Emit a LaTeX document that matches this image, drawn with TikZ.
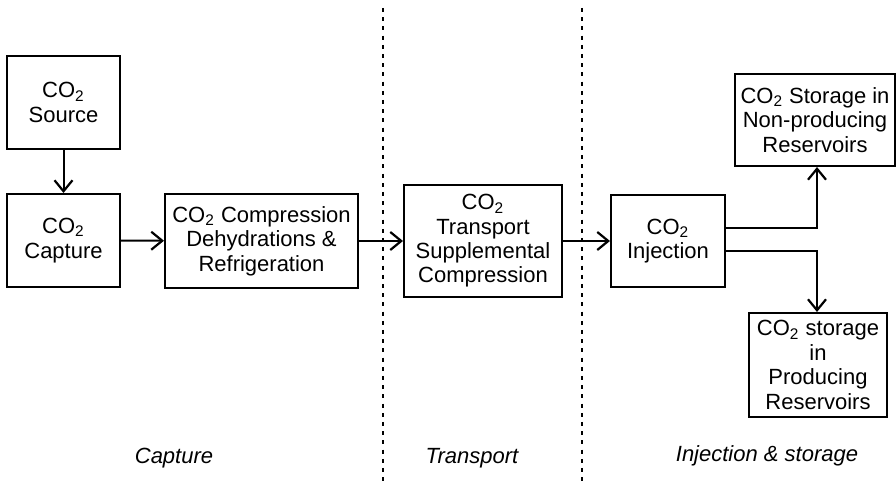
\documentclass[tikz,border=0pt]{standalone}
\usepackage{fontspec}
\setmainfont{Liberation Sans}
\usetikzlibrary{arrows.meta}
\newcommand{\cotwo}{CO\textsubscript{2}}
\tikzset{
  box/.style={draw, line width=1pt, align=center, inner sep=0pt,
    font=\fontsize{11}{12.2}\selectfont},
  flow/.style={line width=1pt, -{Straight Barb[length=5.5pt,width=9pt,line width=1.1pt]}},
  zone/.style={line width=1pt, dash pattern=on 2pt off 2.6pt},
  phase/.style={font=\fontsize{11}{12}\selectfont\itshape}
}
\begin{document}
\begin{tikzpicture}[x=0.5pt, y=-0.5pt]
            \useasboundingbox (0,0) rectangle (896,481);
            % boxes
            \node[box, minimum width=56.5pt, minimum height=46.5pt] (src) at (63.5,102.5) {\cotwo\\Source};
            \node[box, minimum width=56.5pt, minimum height=46.5pt] (cap) at (63.5,240.5) {\cotwo\\Capture};
            \node[box, minimum width=96.5pt, minimum height=47pt] (comp) at (261.5,241) {\cotwo{} Compression\\Dehydrations \&\\Refrigeration};
            \node[box, minimum width=79pt, minimum height=56pt] (trans) at (483,241) {\cotwo\\Transport\\Supplemental\\Compression};
            \node[box, minimum width=57pt, minimum height=46pt] (inj) at (668,241) {\cotwo\\Injection};
            \node[box, minimum width=80pt, minimum height=46pt] (nonprod) at (815,120) {\cotwo{} Storage in\\Non-producing\\Reservoirs};
            \node[box, minimum width=69pt, minimum height=52pt] (prod) at (818,365) {\cotwo{} storage\\in\\Producing\\Reservoirs};
            % dividers
            \coordinate (d1a) at (383,8);
            \coordinate (d1b) at (383,481);
            \coordinate (d2a) at (582,8);
            \coordinate (d2b) at (582,481);
            \draw[zone] (d1a) -- (d1b);
            \draw[zone] (d2a) -- (d2b);
            % flows
            \draw[flow] (src) -- (cap);
            \draw[flow] (cap) -- (comp);
            \draw[flow] (comp) -- (trans);
            \draw[flow] (trans) -- (inj);
            \draw[flow] (inj.east |- 0,228) -| (nonprod.south -| 817,0);
            \draw[flow] (inj.east |- 0,251) -| (prod.north -| 817,0);
            % phases
            \node[phase] (capture) at (174,458) {Capture};
            \node[phase] (transport) at (472,458) {Transport};
            \node[phase] (storage) at (767,456) {Injection \& storage};
\end{tikzpicture}
\end{document}
